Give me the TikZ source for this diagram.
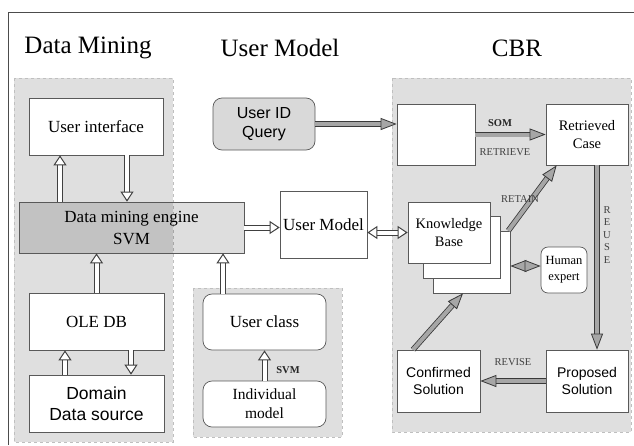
\documentclass[tikz,border=0pt]{standalone}
\usepackage{fontspec}
\setmainfont{Liberation Serif}
\newfontfamily\arialfont{Liberation Sans}
\usetikzlibrary{arrows.meta}

\begin{document}
\begin{tikzpicture}[x=1pt,y=-1pt,
  box/.style={draw=gray!70!black,fill=white,line width=0.7pt,align=center,inner sep=1pt,
    font=\fontsize{17}{22}\selectfont},
  rbox/.style={box,rounded corners=9pt},
  region/.style={draw=gray!50,dashed,fill=gray!25,line width=0.6pt},
  hollow/.style={draw=gray!50!black,double=white,double distance=4pt,line width=1pt,
    >={Triangle[fill=white,line width=1pt,length=10pt,width=13pt]}},
  grayarr/.style={draw=gray!45!black,double=gray!70,double distance=4pt,line width=0.8pt,
    >={Triangle[fill=gray!70,line width=0.8pt,length=16pt,width=12pt]}},
  lab/.style={font=\fontsize{10.5}{12.5}\selectfont,text=black!75}]

\useasboundingbox (0,0) rectangle (634,445);
\fill[white] (0,0) rectangle (634,445);
\draw[gray!60!black,line width=0.7pt] (8,445) -- (8,12) -- (634,12);

% titles
\node[font=\fontsize{25}{28}\selectfont] (tdm) at (88,48) {Data Mining};
\node[font=\fontsize{25}{28}\selectfont] (tum) at (280,48) {User Model};
\node[font=\fontsize{25}{28}\selectfont] (tcbr) at (517,48) {CBR};

% regions
\draw[region] (14,78) rectangle (173,442);
\draw[region] (193,288) rectangle (342,437);
\draw[region] (392,78) rectangle (631,432);

% data mining
\node[box,minimum width=134pt,minimum height=57pt] (ui) at (96,126.5) {User interface};
\node[box,fill=black,fill opacity=0.13,text opacity=1,draw opacity=1,
  minimum width=225pt,minimum height=51pt] (engine) at (131.5,227.5) {Data mining engine\\SVM};
\node[box,minimum width=135pt,minimum height=57pt] (ole) at (96.5,321.5) {OLE DB};
\node[box,font=\arialfont\fontsize{17.5}{21}\selectfont,minimum width=135pt,minimum height=57pt]
  (dom) at (96.5,403.5) {Domain\\Data source};

% user model
\node[rbox,fill=gray!30,font=\arialfont\fontsize{16}{19}\selectfont,minimum width=102pt,minimum height=52pt]
  (uid) at (264,124) {User ID\\Query};
\node[box,minimum width=87pt,minimum height=67pt] (um) at (323.5,224.5) {User Model};
\node[rbox,minimum width=123pt,minimum height=56pt] (ucls) at (264.5,322) {User class};
\node[rbox,font=\fontsize{15.5}{19}\selectfont,minimum width=123pt,minimum height=46pt]
  (indiv) at (264.5,404) {Individual\\model};

% CBR
\node[box,minimum width=78pt,minimum height=61pt] (blank) at (436,134.5) {};
\node[box,font=\fontsize{14.5}{18}\selectfont,minimum width=82pt,minimum height=61pt]
  (ret) at (587,134.5) {Retrieved\\Case};
\node[box,font=\arialfont\fontsize{14}{17}\selectfont,minimum width=82pt,minimum height=62pt]
  (prop) at (587,381) {Proposed\\Solution};
\node[box,font=\arialfont\fontsize{14}{17}\selectfont,minimum width=83pt,minimum height=62pt]
  (conf) at (438.5,381) {Confirmed\\Solution};
\node[box,minimum width=77pt,minimum height=62pt] (kb3) at (471.5,262) {};
\node[box,minimum width=77pt,minimum height=62pt] (kb2) at (461.5,247) {};
\node[box,font=\fontsize{14.5}{18}\selectfont,minimum width=82pt,minimum height=61pt]
  (kb1) at (449,232.5) {Knowledge\\Base};
\node[rbox,rounded corners=7pt,font=\fontsize{12.5}{16}\selectfont,minimum width=46pt,minimum height=46pt]
  (hum) at (564,270) {Human\\expert};

% hollow arrows
\draw[hollow,->] (engine.north -| 60,0) -- (ui.south -| 60,0);
\draw[hollow,->] (ui.south -| 127,0) -- (engine.north -| 127,0);
\draw[hollow,->] (ole.north) -- (engine.south -| ole.north);
\draw[hollow,->] (dom.north -| 65,0) -- (ole.south -| 65,0);
\draw[hollow,->] (ole.south -| 131,0) -- (dom.north -| 131,0);
\draw[hollow,->] (ucls.north -| 223,0) -- (engine.south -| 223,0);
\draw[hollow,->] (indiv.north) -- (ucls.south);
\draw[hollow,->] (engine.east) -- (engine.east -| um.west);
\draw[hollow,<->] (kb1.west -| um.east) -- (kb1.west);

% gray arrows
\draw[grayarr,->] (uid.east) -- (uid.east -| blank.west);
\draw[grayarr,->] (blank.east) -- (ret.west);
\draw[grayarr,->] (ret.south -| 597,0) -- (prop.north -| 597,0);
\draw[grayarr,->] (prop.west) -- (conf.east);
\draw[grayarr,->] (conf.north -| 413,0) -- (kb3.south -| 463,0);
\draw[grayarr,<->] (kb3.east |- 0,266) -- (hum.west |- 0,266);
\draw[grayarr,->] ([xshift=-2pt]kb3.north east) -- ([xshift=11pt]ret.south west);

% labels
\node[lab,font=\bfseries\fontsize{10.5}{12.5}\selectfont,text=black!85] (lsvm) at (288,370) {SVM};
\node[lab,font=\bfseries\fontsize{10.5}{12.5}\selectfont,text=black!85] (lsom) at (500,123) {SOM};
\node[lab] (lretr) at (505,152) {RETRIEVE};
\node[lab] (lreta) at (520,199) {RETAIN};
\node[lab] (lrev) at (513,362) {REVISE};
\node[lab,align=center] (lreu) at (607,235) {R\\E\\U\\S\\E};

\end{tikzpicture}
\end{document}
